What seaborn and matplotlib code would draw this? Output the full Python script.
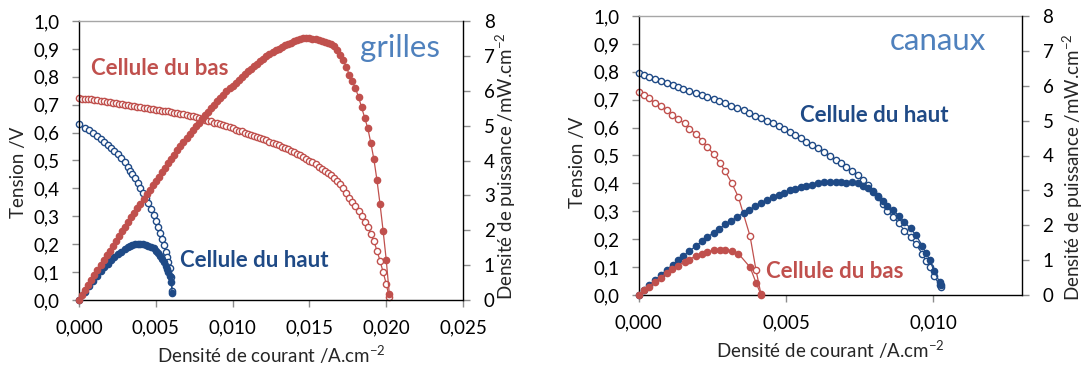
import numpy as np
import pandas as pd
import matplotlib
matplotlib.use("Agg")
import matplotlib.pyplot as plt
import seaborn as sns
from matplotlib.ticker import FuncFormatter, MultipleLocator

sns.set_theme(style="white")
plt.rcParams["font.family"] = ["Lato", "DejaVu Sans"]
plt.rcParams["mathtext.default"] = "regular"

RED = "#C0504D"
BLUE = "#1F4A86"
LIGHT_BLUE = "#4F81BD"

# ---- "grilles" cell: current density (mA/cm2) and voltage (V) ----
grilles_bas_j = [
    0.0, 0.2, 0.4, 0.6, 0.8, 1.0, 1.2, 1.4, 1.6, 1.8,
    2.0, 2.2, 2.4, 2.6, 2.8, 3.0, 3.2, 3.4, 3.6, 3.8,
    4.0, 4.2, 4.4, 4.6, 4.8, 5.0, 5.2, 5.4, 5.6, 5.8,
    6.0, 6.2, 6.4, 6.6, 6.8, 7.0, 7.2, 7.4, 7.6, 7.8,
    8.0, 8.2, 8.4, 8.6, 8.8, 9.0, 9.2, 9.4, 9.6, 9.8,
    10.0, 10.2, 10.4, 10.6, 10.8, 11.0, 11.2, 11.4, 11.6, 11.8,
    12.0, 12.2, 12.4, 12.6, 12.8, 13.0, 13.2, 13.4, 13.6, 13.8,
    14.0, 14.2, 14.4, 14.6, 14.8, 15.0, 15.2, 15.4, 15.6, 15.8,
    16.0, 16.2, 16.4, 16.6, 16.8, 17.0, 17.2, 17.4, 17.6, 17.8,
    18.0, 18.2, 18.4, 18.6, 18.8, 19.0, 19.2, 19.4, 19.6, 19.8,
    20.0, 20.2,
]
grilles_bas_v = [
    0.723, 0.722, 0.721, 0.720, 0.719, 0.717, 0.716, 0.714, 0.712, 0.710,
    0.709, 0.707, 0.705, 0.703, 0.702, 0.700, 0.698, 0.696, 0.695, 0.693,
    0.691, 0.689, 0.688, 0.686, 0.684, 0.682, 0.681, 0.679, 0.678, 0.676,
    0.674, 0.672, 0.670, 0.668, 0.665, 0.663, 0.660, 0.658, 0.655, 0.652,
    0.649, 0.646, 0.643, 0.640, 0.636, 0.633, 0.630, 0.626, 0.623, 0.619,
    0.615, 0.611, 0.607, 0.604, 0.600, 0.596, 0.592, 0.588, 0.584, 0.580,
    0.577, 0.573, 0.568, 0.564, 0.559, 0.554, 0.550, 0.545, 0.540, 0.535,
    0.530, 0.525, 0.520, 0.514, 0.507, 0.500, 0.493, 0.486, 0.478, 0.470,
    0.462, 0.455, 0.447, 0.438, 0.427, 0.414, 0.400, 0.384, 0.367, 0.352,
    0.337, 0.320, 0.300, 0.281, 0.262, 0.237, 0.210, 0.177, 0.140, 0.100,
    0.058, 0.009,
]
grilles_haut_j = [
    0.0, 0.39, 0.65, 0.93, 1.15, 1.43, 1.65, 1.87, 2.08, 2.30,
    2.52, 2.73, 2.99, 3.17, 3.32, 3.47, 3.65, 3.82, 3.99, 4.19,
    4.36, 4.51, 4.69, 4.86, 4.99, 5.12, 5.27, 5.38, 5.51, 5.64,
    5.73, 5.81, 5.92, 5.99, 6.08,
]
grilles_haut_v = [
    0.630, 0.618, 0.609, 0.597, 0.589, 0.577, 0.567, 0.556, 0.546, 0.534,
    0.522, 0.508, 0.493, 0.478, 0.464, 0.452, 0.436, 0.420, 0.403, 0.383,
    0.364, 0.346, 0.325, 0.305, 0.282, 0.261, 0.240, 0.219, 0.197, 0.173,
    0.155, 0.137, 0.114, 0.084, 0.031,
]

# ---- "canaux" cell ----
canaux_bas_j = [
    0.0, 0.18, 0.34, 0.54, 0.74, 0.96, 1.14, 1.34, 1.56, 1.71,
    1.96, 2.15, 2.32, 2.54, 2.76, 2.92, 3.15, 3.38, 3.78, 3.98,
    4.15,
]
canaux_bas_v = [
    0.726, 0.717, 0.705, 0.689, 0.677, 0.663, 0.645, 0.630, 0.615, 0.594,
    0.577, 0.552, 0.532, 0.505, 0.472, 0.446, 0.403, 0.352, 0.211, 0.090,
    0.003,
]
canaux_haut_j = [
    0.0, 0.18, 0.36, 0.55, 0.75, 0.95, 1.16, 1.35, 1.52, 1.72,
    1.95, 2.14, 2.33, 2.54, 2.74, 2.94, 3.14, 3.35, 3.56, 3.76,
    3.96, 4.15, 4.35, 4.56, 4.75, 4.94, 5.15, 5.32, 5.51, 5.69,
    5.88, 6.08, 6.28, 6.48, 6.68, 6.85, 7.05, 7.24, 7.44, 7.62,
    7.78, 7.95, 8.12, 8.28, 8.43, 8.64, 8.83, 9.02, 9.23, 9.40,
    9.63, 9.74, 9.89, 10.02, 10.22, 10.25,
]
canaux_haut_v = [
    0.795, 0.789, 0.783, 0.774, 0.768, 0.761, 0.753, 0.747, 0.739, 0.732,
    0.723, 0.717, 0.711, 0.704, 0.695, 0.689, 0.677, 0.669, 0.663, 0.651,
    0.642, 0.633, 0.625, 0.615, 0.606, 0.594, 0.583, 0.573, 0.564, 0.549,
    0.538, 0.526, 0.514, 0.498, 0.485, 0.472, 0.457, 0.446, 0.430, 0.412,
    0.394, 0.373, 0.350, 0.326, 0.302, 0.281, 0.257, 0.231, 0.207, 0.183,
    0.147, 0.123, 0.101, 0.068, 0.036, 0.028,
]

W, H = 1090, 367
fig = plt.figure(figsize=(W / 100, H / 100), dpi=100)


def px_axes(left, top, right, bottom):
    return fig.add_axes([left / W, 1 - bottom / H, (right - left) / W, (bottom - top) / H])


def px_text(x, y, s, **kw):
    fig.text(x / W, 1 - y / H, s, **kw)


def frame(j_ma, volts):
    d = pd.DataFrame({"j_ma": j_ma, "v": volts})
    d["j"] = d["j_ma"] / 1000.0          # A/cm2
    d["p"] = d["j_ma"] * d["v"]          # mW/cm2
    return d


def curve(ax, d, y, color, filled):
    sns.lineplot(
        data=d, x="j", y=y, ax=ax, sort=False, estimator=None, legend=False,
        color=color, linewidth=0.9, marker="o", markersize=4.5,
        markerfacecolor=color if filled else "white",
        markeredgecolor=color, markeredgewidth=1.0, clip_on=False,
    )


comma1 = FuncFormatter(lambda v, _: f"{v:.1f}".replace(".", ","))
comma3 = FuncFormatter(lambda v, _: f"{v:.3f}".replace(".", ","))
intfmt = FuncFormatter(lambda v, _: f"{v:.0f}")

TICK = 13.5
LAB = 13.5
NOTE = 16


def panel(ax, series, xmax, xticks):
    ax2 = ax.twinx()
    for d, color in series:
        curve(ax, d, "v", color, False)
    for d, color in series[::-1]:
        curve(ax2, d, "p", color, True)

    ax.set_xlim(0, xmax)
    ax.set_ylim(0, 1.0)
    ax2.set_ylim(0, 8)
    ax.set_xticks(xticks)
    ax.yaxis.set_major_locator(MultipleLocator(0.1))
    ax2.yaxis.set_major_locator(MultipleLocator(1))
    ax.xaxis.set_major_formatter(comma3)
    ax.yaxis.set_major_formatter(comma1)
    ax2.yaxis.set_major_formatter(intfmt)
    ax.set_xlabel("")
    ax.set_ylabel("")
    ax2.set_ylabel("")

    for a in (ax, ax2):
        a.set_facecolor("none")
        for s in a.spines.values():
            s.set_visible(False)
    for s in ("left", "bottom", "top"):
        ax.spines[s].set_visible(True)
        ax.spines[s].set_linewidth(1.0)
        ax.spines[s].set_color("black")
    ax.spines["top"].set_color("#A6A6A6")
    ax2.spines["right"].set_visible(True)
    ax2.spines["right"].set_color("black")
    ax2.spines["right"].set_linewidth(1.0)

    ax.tick_params(axis="both", which="both", direction="out", length=5, width=1.0,
                   color="#8C8C8C", labelsize=TICK, labelcolor="black",
                   bottom=True, left=True, top=False, right=False, pad=9)
    ax2.tick_params(axis="y", direction="out", length=5, width=1.0, color="#8C8C8C",
                    labelsize=TICK, labelcolor="black", right=True, left=False, pad=10)
    ax.set_zorder(1)
    ax2.set_zorder(2)
    return ax2


XLAB = "Densité de courant /A.cm$^{-2}$"
YLAB = "Tension /V"
Y2LAB = "Densité de puissance /mW.cm$^{-2}$"

# left panel: grilles
axL = px_axes(79, 21, 463, 300)
gb = frame(grilles_bas_j, grilles_bas_v)
gh = frame(grilles_haut_j, grilles_haut_v)
panel(axL, [(gb, RED), (gh, BLUE)], 0.025, [0, 0.005, 0.010, 0.015, 0.020, 0.025])
px_text(271, 355, XLAB, fontsize=LAB, ha="center", va="center")
px_text(19, 172, YLAB, fontsize=LAB, ha="center", va="center", rotation=90)
px_text(506, 166, Y2LAB, fontsize=LAB, ha="center", va="center", rotation=90)

axL.text(0.00076, 0.828, "Cellule du bas", color=RED, fontsize=NOTE, fontweight="bold",
         ha="left", va="center")
axL.text(0.00658, 0.143, "Cellule du haut", color=BLUE, fontsize=NOTE, fontweight="bold",
         ha="left", va="center")
axL.text(0.0183, 0.872, "grilles", color=LIGHT_BLUE, fontsize=22.5, ha="left", va="baseline")

# right panel: canaux
axR = px_axes(638.7, 16, 1021.7, 295)
cb = frame(canaux_bas_j, canaux_bas_v)
ch = frame(canaux_haut_j, canaux_haut_v)
panel(axR, [(cb, RED), (ch, BLUE)], 0.013, [0, 0.005, 0.010])
px_text(830, 350, XLAB, fontsize=LAB, ha="center", va="center")
px_text(578, 162, YLAB, fontsize=LAB, ha="center", va="center", rotation=90)
px_text(1073, 167, Y2LAB, fontsize=LAB, ha="center", va="center", rotation=90)

axR.text(0.00546, 0.645, "Cellule du haut", color=BLUE, fontsize=NOTE, fontweight="bold",
         ha="left", va="center")
axR.text(0.00433, 0.086, "Cellule du bas", color=RED, fontsize=NOTE, fontweight="bold",
         ha="left", va="center")
axR.text(0.00851, 0.878, "canaux", color=LIGHT_BLUE, fontsize=22.5, ha="left", va="baseline")

fig.savefig("out.png", dpi=100)
